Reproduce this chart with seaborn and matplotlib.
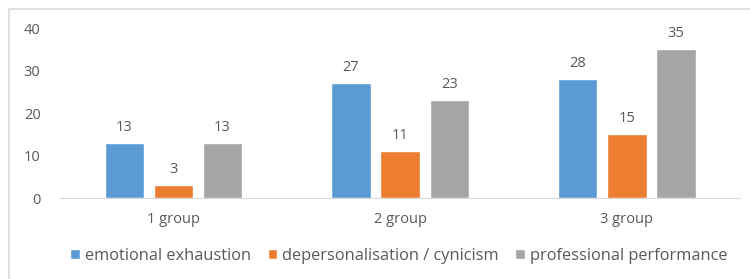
import matplotlib
matplotlib.use("Agg")
import matplotlib.pyplot as plt
import seaborn as sns
import pandas as pd
from matplotlib.patches import Rectangle

groups = ["1 group", "2 group", "3 group"]
series = ["emotional exhaustion", "depersonalisation / cynicism", "professional performance"]
emotional = [13, 27, 28]
depersonal = [3, 11, 15]
professional = [13, 23, 35]
colors = ["#5B9BD5", "#ED7D31", "#A5A5A5"]

rows = []
for name, vals in zip(series, [emotional, depersonal, professional]):
    for g, v in zip(groups, vals):
        rows.append({"group": g, "series": name, "value": v})
df = pd.DataFrame(rows)

sns.set_style("white")
plt.rcParams["font.family"] = ["Open Sans", "DejaVu Sans"]
text_col = "#595959"

fig = plt.figure(figsize=(7.5, 2.79), dpi=100)
ax = fig.add_axes([0.08, 0.29, 0.907, 0.609])

sns.barplot(data=df, x="group", y="value", hue="series", palette=colors,
            width=0.65, gap=0.2, ax=ax, saturation=1, legend=True)

for cont in ax.containers:
    ax.bar_label(cont, padding=6, fontsize=10.5, color=text_col)

ax.set_ylim(0, 40)
ax.set_yticks([0, 10, 20, 30, 40])
ax.set_xlabel("")
ax.set_ylabel("")
for s in ["top", "right", "left"]:
    ax.spines[s].set_visible(False)
ax.spines["bottom"].set_color("#d9d9d9")
ax.tick_params(axis="both", length=0, labelsize=10.5, labelcolor=text_col)
ax.tick_params(axis="x", pad=10)
ax.tick_params(axis="y", pad=14)

handles, labels = ax.get_legend_handles_labels()
ax.get_legend().remove()
fig.legend(handles, labels, loc="center", bbox_to_anchor=(0.532, 0.083), ncol=3,
           frameon=False, handlelength=0.6, handleheight=0.6, handletextpad=0.3,
           columnspacing=1.0, fontsize=11.8, labelcolor=text_col)

fig.patches.append(Rectangle((0.012, -0.2), 1.2, 1.168, transform=fig.transFigure,
                             fill=False, edgecolor="#d9d9d9", linewidth=1.2))

fig.savefig("out.png", dpi=100)
